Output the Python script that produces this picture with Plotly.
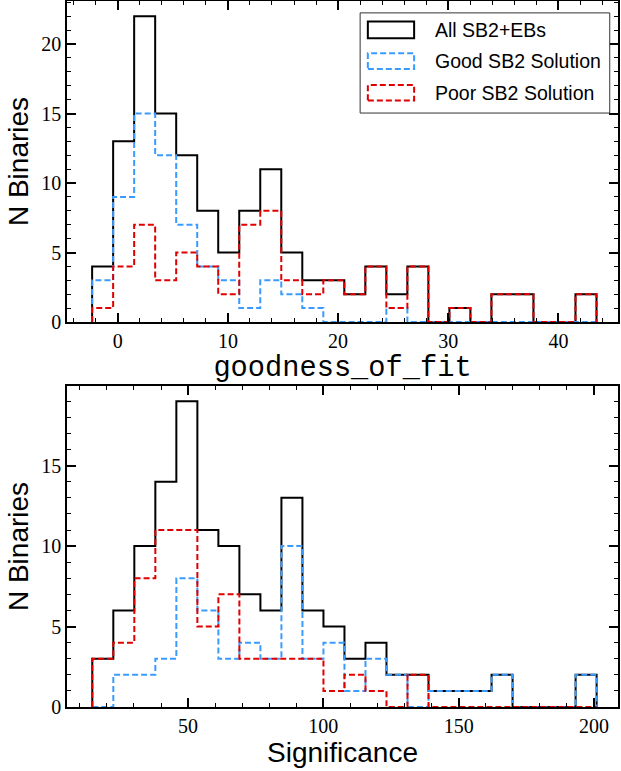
import numpy as np
import plotly.graph_objects as go
from plotly.subplots import make_subplots

# bin layout (24 equal bins)
gof_lo, gof_hi = -2.32, 43.45
sig_lo, sig_hi = 14.6, 201.0
n_bins = 24

# counts per bin: goodness_of_fit
gof_all = [4, 13, 22, 15, 12, 8, 5, 8, 11, 5, 3, 3, 2, 4, 2, 4, 0, 1, 0, 2, 2, 0, 0, 2]
gof_good = [3, 9, 15, 12, 7, 4, 3, 1, 3, 2, 1, 0, 0, 0, 1, 0, 0, 0, 0, 0, 0, 0, 0, 0]
gof_poor = [1, 4, 7, 3, 5, 4, 2, 7, 8, 3, 2, 3, 2, 4, 1, 4, 0, 1, 0, 2, 2, 0, 0, 2]

# counts per bin: Significance
sig_all = [3, 6, 10, 14, 19, 11, 10, 7, 6, 13, 6, 5, 3, 4, 2, 2, 1, 1, 1, 2, 0, 0, 0, 2]
sig_good = [0, 2, 2, 3, 8, 6, 3, 4, 3, 10, 3, 4, 1, 3, 2, 0, 1, 1, 1, 2, 0, 0, 0, 2]
sig_poor = [3, 4, 8, 11, 11, 5, 7, 3, 3, 3, 3, 1, 2, 1, 0, 2, 0, 0, 0, 0, 0, 0, 0, 0]

labels = ["All SB2+EBs", "Good SB2 Solution", "Poor SB2 Solution"]
BLUE = "#3a9bff"
RED = "#e00000"
styles = [dict(color="black", width=2), dict(color=BLUE, width=2, dash="6px,3px"),
          dict(color=RED, width=2, dash="6px,3px")]


def step(edges, counts):
    x = np.repeat(edges, 2)
    y = np.concatenate([[0], np.repeat(counts, 2), [0]])
    return x, y


fig = make_subplots(rows=2, cols=1, vertical_spacing=0.0906)

gof_edges = np.linspace(gof_lo, gof_hi, n_bins + 1)
sig_edges = np.linspace(sig_lo, sig_hi, n_bins + 1)
for row, edges, series in [(1, gof_edges, [gof_all, gof_good, gof_poor]),
                           (2, sig_edges, [sig_all, sig_good, sig_poor])]:
    for name, counts, st in zip(labels, series, styles):
        x, y = step(edges, counts)
        fig.add_trace(go.Scatter(x=x, y=y, mode="lines", line=st, name=name,
                                 showlegend=False, cliponaxis=False), row=row, col=1)

SERIF = "Times New Roman, Liberation Serif, serif"
SANS = "Liberation Sans, Arial, sans-serif"
tickfont = dict(family=SERIF, size=20, color="black")
axis_common = dict(showline=True, linecolor="black", linewidth=1.5, mirror="ticks",
                   ticks="inside", ticklen=9, tickwidth=1.5, tickcolor="black",
                   showgrid=False, zeroline=False, tickfont=tickfont, automargin=False)

fig.update_xaxes(**axis_common)
fig.update_yaxes(**axis_common)

fig.update_xaxes(range=[-4.6, 45.4], dtick=10, tick0=0,
                 minor=dict(ticks="inside", ticklen=4, tickwidth=1, dtick=2, tickcolor="black"),
                 title=dict(text="goodness_of_fit", standoff=2,
                            font=dict(family="Liberation Mono, monospace", size=28.7, color="black")),
                 row=1, col=1)
fig.update_yaxes(range=[0, 23.1], dtick=5, tick0=0,
                 minor=dict(ticks="inside", ticklen=4, tickwidth=1, dtick=1, tickcolor="black"),
                 title=dict(text="N Binaries", standoff=4,
                            font=dict(family=SANS, size=28, color="black")),
                 row=1, col=1)
fig.update_xaxes(range=[5.25, 208.9], dtick=50, tick0=0,
                 minor=dict(ticks="inside", ticklen=4, tickwidth=1, dtick=10, tickcolor="black"),
                 title=dict(text="Significance", standoff=2,
                            font=dict(family=SANS, size=28, color="black")),
                 row=2, col=1)
fig.update_yaxes(range=[0, 19.95], dtick=5, tick0=0,
                 minor=dict(ticks="inside", ticklen=4, tickwidth=1, dtick=1, tickcolor="black"),
                 title=dict(text="N Binaries", standoff=4,
                            font=dict(family=SANS, size=28, color="black")),
                 row=2, col=1)

# hand-drawn legend with rectangle swatches (matplotlib style) in the top panel
shapes = [dict(type="rect", xref="x domain", yref="y domain", x0=0.532, x1=0.985,
               y0=0.651, y1=0.963, line=dict(color="#333333", width=1), fillcolor="white",
               layer="above")]
rows_y = [(0.884, 0.936, 0.910), (0.788, 0.837, 0.812), (0.690, 0.738, 0.714)]
annotations = []
for (y0, y1, yc), name, st in zip(rows_y, labels, styles):
    shapes.append(dict(type="rect", xref="x domain", yref="y domain", x0=0.546, x1=0.630,
                       y0=y0, y1=y1, line=st, layer="above"))
    annotations.append(dict(text=name, xref="x domain", yref="y domain", x=0.664, y=yc,
                            xanchor="left", yanchor="middle", showarrow=False,
                            font=dict(family=SANS, size=19.5, color="black")))

fig.update_layout(width=621, height=771, plot_bgcolor="white", paper_bgcolor="white",
                  margin=dict(l=67, r=3, t=1, b=64), shapes=shapes,
                  annotations=list(fig.layout.annotations) + annotations)

# drop the default page margin so the figure sits at the window's corner
fig.write_html("out.html", config={"displayModeBar": False},
               post_script="document.body.style.margin='0';")
